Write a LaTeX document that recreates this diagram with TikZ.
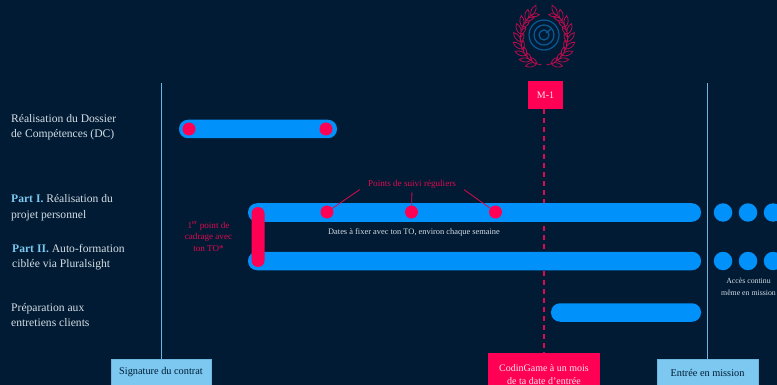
\documentclass[tikz,border=0pt]{standalone}
\usepackage{fontspec}
\setmainfont{Liberation Serif}
\definecolor{bg}{HTML}{001B33}
\definecolor{barblue}{HTML}{0091FA}
\definecolor{hot}{HTML}{FF0055}
\definecolor{hotdim}{HTML}{E00A52}
\definecolor{sky}{HTML}{7CC8F0}
\definecolor{skyline}{HTML}{6DB6E0}
\definecolor{txt}{HTML}{D6DEE6}
\definecolor{ring}{HTML}{0A5A96}
\definecolor{leafc}{HTML}{B80C4C}
\tikzset{
 bar/.style={fill=barblue,draw=none,rounded corners=9pt,minimum height=18.5pt,inner sep=0pt,outer sep=0pt},
 dotp/.style={circle,fill=hot,minimum size=13pt,inner sep=0,outer sep=0},
 dotb/.style={circle,fill=barblue,minimum size=18.5pt,inner sep=0,outer sep=0},
 lefttxt/.style={anchor=west,align=left,text=txt,font=\fontsize{11.6}{15.5}\selectfont,inner sep=0},
 smalltxt/.style={align=center,text=txt,font=\fontsize{8.4}{12}\selectfont,inner sep=0},
 pinktxt/.style={align=center,text=hotdim,font=\fontsize{9.1}{11.6}\selectfont,inner sep=0},
 skybox/.style={fill=sky,draw=skyline,text=bg,font=\fontsize{10.3}{12}\selectfont,inner sep=0,outer sep=0},
 hotbox/.style={fill=hot,text=white!90!hot,align=center,inner sep=0,outer sep=0},
 vline/.style={draw=skyline,line width=1pt},
 leaf/.style={draw=leafc,line width=0.8pt,fill=bg},
}
\begin{document}
\begin{tikzpicture}[x=1pt,y=-1pt]
\useasboundingbox (0,0) rectangle (777,385);
\clip (0,0) rectangle (777,385);
\fill[bg] (0,0) rectangle (777,385);
% emblem
\foreach \r in {5,10,15}{\draw[ring,line width=1.2pt] (544,35) circle (\r pt);}
\draw[ring,line width=1.2pt] (551,29) -- (546,33);
\foreach \s in {1,-1}{
 \begin{scope}[shift={(544,38)},xscale=\s]
 \draw[leafc,line width=0.8pt,domain=-56:84,samples=30,variable=\t] plot ({23.5*cos(\t)},{27*sin(\t)});
 \foreach \a in {-56,-40,-24,-8,8,24,40,56,72}{
   \pgfmathsetmacro{\ra}{60-\a}
   \pgfmathsetmacro{\rb}{118-\a}
   \draw[leaf,shift={({23.5*cos(\a)},{27*sin(\a)})},rotate=\ra] (0,0) .. controls (3.5,-2.8) and (8,-2.8) .. (11.5,0) .. controls (8,2.8) and (3.5,2.8) .. (0,0);
   \draw[leaf,shift={({23.5*cos(\a)},{27*sin(\a)})},rotate=\rb] (0,0) .. controls (3,-2) and (5.5,-2) .. (8.5,0) .. controls (5.5,2) and (3,2) .. (0,0);
 }
 \end{scope}
}
% vertical lines / boxes
\node[skybox,minimum width=100pt,minimum height=27pt] (sig) at (161,372.5) {Signature du contrat};
\node[skybox,minimum width=101pt,minimum height=27pt] (ent) at (707.5,372.5) {Entrée en mission};
\coordinate (sigtop) at (161,83);
\coordinate (enttop) at (707.5,83);
\draw[vline] (sig.north) -- (sigtop);
\draw[vline] (ent.north) -- (enttop);
\node[hotbox,minimum width=35pt,minimum height=28pt,font=\fontsize{10}{12}\selectfont] (m1) at (545.5,95) {M-1};
\node[hotbox,minimum width=112pt,minimum height=43pt,font=\fontsize{10}{12.6}\selectfont,anchor=north] (cg) at (544,353) {CodinGame à un mois\\de ta date d’entrée};
\draw[hotdim,line width=1.3pt,dash pattern=on 5pt off 4pt] (m1.south -| cg.north) -- (cg.north);
% bars
\node[bar,minimum width=158pt,anchor=west] (dc) at (179,129) {};
\node[bar,minimum width=453pt,anchor=west] (b1) at (248,212.5) {};
\node[bar,minimum width=453pt,anchor=west] (b2) at (248,261) {};
\node[bar,minimum width=150pt,anchor=west] (b3) at (551,312.5) {};
% pink
\node[dotp] (d1) at (189,129) {};
\node[dotp] (d2) at (326,129) {};
\node[dotp] (p1) at (327,212) {};
\node[dotp] (p2) at (411.5,212) {};
\node[dotp] (p3) at (495.5,212) {};
\node[fill=hot,rounded corners=6.5pt,minimum width=13pt,minimum height=60pt,inner sep=0] (cad) at (258,237) {};
% dots right
\foreach \x/\n in {723/a,748/b,773/c}{
 \node[dotb] (u\n) at (\x,212.5) {};
 \node[dotb] (v\n) at (\x,261) {};
}
% labels
\node[pinktxt] (pts) at (412,184) {Points de suivi réguliers};
\draw[hotdim,line width=0.8pt,shorten <=10pt] (pts.west) -- (p1);
\draw[hotdim,line width=0.8pt,shorten <=4pt] (pts.south) -- (p2);
\draw[hotdim,line width=0.8pt,shorten <=10pt] (pts.east) -- (p3);
\node[smalltxt] (dates) at (414,232.5) {Dates à fixer avec ton TO, environ chaque semaine};
\node[pinktxt] (cadt) at (208.5,236.5) {1\textsuperscript{er} point de\\cadrage avec\\ton TO*};
\node[smalltxt,font=\fontsize{7.8}{12}\selectfont] (acc) at (748.5,287) {Accès continu\\même en mission};
\node[lefttxt] (l1) at (11,127) {Réalisation du Dossier\\de Compétences (DC)};
\node[lefttxt] (l2) at (11,207.5) {{\color{sky}\textbf{Part I.}} Réalisation du\\projet personnel};
\node[lefttxt] (l3) at (12,257) {{\color{sky}\textbf{Part II.}} Auto-formation\\ciblée via Pluralsight};
\node[lefttxt] (l4) at (11,315) {Préparation aux\\entretiens clients};
\end{tikzpicture}
\end{document}
